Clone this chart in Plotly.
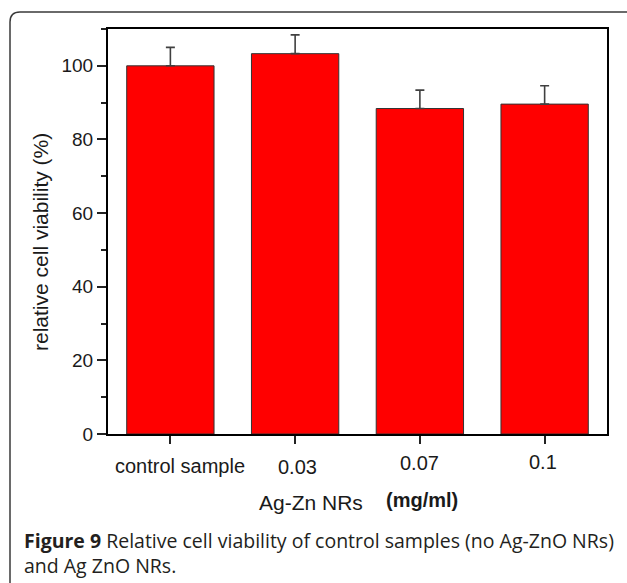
import plotly.graph_objects as go

categories = ["control sample", "0.03", "0.07", "0.1"]
viability = [100.0, 103.3, 88.4, 89.6]
errors = [5.0, 5.1, 5.0, 5.0]
y_ticks = [0, 20, 40, 60, 80, 100]

W, H = 627, 583
L, R, T, B = 108, 20, 29, 149
PW, PH = W - L - R, H - T - B


def px2x(px):
    return (px - L) / PW


def px2y(py):
    return (H - B - py) / PH


fig = go.Figure()
fig.add_trace(go.Bar(
    x=categories, y=viability, width=0.7,
    marker=dict(color="#ff0000", line=dict(color="#333333", width=1)),
    error_y=dict(type="data", array=errors, symmetric=False,
                 color="#404040", thickness=1.6, width=4.5),
))

fig.update_layout(
    width=W, height=H, margin=dict(l=L, r=R, t=T, b=B),
    paper_bgcolor="white", plot_bgcolor="white", showlegend=False,
    font=dict(family="Arial, Liberation Sans", color="#1a1a1a"),
)
fig.update_xaxes(
    type="category", range=[-0.5, 3.5], showline=True, linecolor="black", linewidth=2, mirror=True,
    ticks="outside", ticklen=8, tickwidth=1.5, tickcolor="#222", showticklabels=False,
    showgrid=False, zeroline=False,
)
fig.update_yaxes(
    range=[0, 110], tickvals=y_ticks, ticktext=[str(v) for v in y_ticks],
    showline=True, linecolor="black", linewidth=2, mirror=True,
    ticks="outside", ticklen=9, tickwidth=1.5, tickcolor="#222",
    minor=dict(dtick=10, tick0=0, ticklen=5, ticks="outside", tickwidth=1.5, tickcolor="#222"),
    tickfont=dict(size=19, family="Arial, Liberation Sans", color="#1a1a1a"),
    showgrid=False, zeroline=False,
)

# x tick labels (slightly scattered as in original)
lab_y = [466, 467, 463, 462]
lab_dx = [10, 2, 0, -1.5]
for i, (c, yy, dx) in enumerate(zip(categories, lab_y, lab_dx)):
    fig.add_annotation(x=i, xref="x", y=px2y(yy), yref="paper", text=c, showarrow=False,
                       xshift=dx, yanchor="middle", xanchor="center",
                       font=dict(size=20, family="Arial, Liberation Sans", color="#1a1a1a"))

# axis titles
fig.add_annotation(x=px2x(311), y=px2y(503), xref="paper", yref="paper", text="Ag-Zn NRs",
                   xanchor="center", yanchor="middle", showarrow=False,
                   font=dict(size=21, family="Arial, Liberation Sans", color="#1a1a1a"))
fig.add_annotation(x=px2x(422), y=px2y(500), xref="paper", yref="paper", text="<b>(mg/ml)</b>",
                   xanchor="center", yanchor="middle", showarrow=False,
                   font=dict(size=20, family="Arial, Liberation Sans", color="#1a1a1a"))
fig.add_annotation(x=px2x(40), y=px2y(242), xref="paper", yref="paper",
                   text="relative cell viability (%)", textangle=-90, showarrow=False,
                   xanchor="center", yanchor="middle",
                   font=dict(size=21, family="Arial, Liberation Sans", color="#1a1a1a"))

# caption (two lines in one text block)
cap_font = dict(size=19.5, family="Open Sans", color="#231f20")
fig.add_annotation(x=px2x(22), y=px2y(553), xref="paper", yref="paper", xanchor="left",
                   yanchor="middle", align="left", showarrow=False, font=cap_font,
                   text="<b>Figure 9</b> Relative cell viability of control samples (no Ag-ZnO NRs)"
                        "<br>and Ag ZnO NRs.")

# rounded frame (open on right and bottom)
x0, y_top, rad = 10, 12, 10
path = (f"M {px2x(x0)},{px2y(H + 10)} L {px2x(x0)},{px2y(y_top + rad)} "
        f"Q {px2x(x0)},{px2y(y_top)} {px2x(x0 + rad)},{px2y(y_top)} L {px2x(W + 10)},{px2y(y_top)}")
fig.add_shape(type="path", path=path, xref="paper", yref="paper",
              line=dict(color="#3a3a3a", width=1.5))

fig.write_html("out.html")
